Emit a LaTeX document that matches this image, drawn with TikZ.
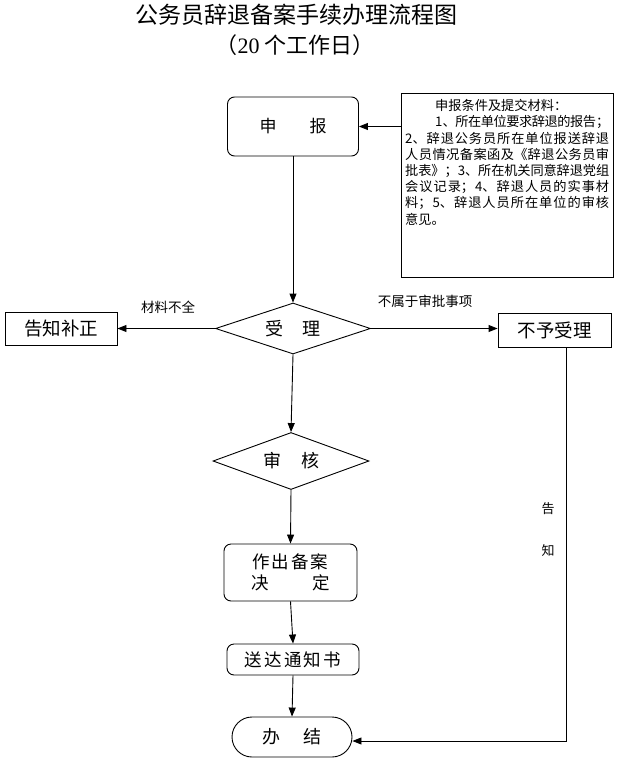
\documentclass[tikz,border=0pt]{standalone}
\usepackage{fontspec}
\setmainfont{Noto Sans CJK SC}
\newfontfamily\latinserif{Liberation Serif}
\XeTeXlinebreaklocale "zh"
\XeTeXlinebreakskip=0pt plus 3pt minus 0.8pt
\usetikzlibrary{shapes.geometric,arrows.meta,calc}
\newcommand{\fs}[1]{\fontsize{#1}{#1}\selectfont}
\begin{document}
\begin{tikzpicture}[x=1pt,y=-1pt,
  base/.style={draw,line width=0.9pt,inner sep=0pt,anchor=center},
  rbox/.style={base,rectangle,rounded corners=7pt},
  sbox/.style={base,rectangle},
  dia/.style={base,diamond,aspect=3},
  arr/.style={line width=0.9pt,-{Triangle[length=9pt,width=7pt]}},
  lbl/.style={inner sep=0pt,font=\fs{13.5}},
  info/.style={inner sep=0pt,anchor=west,font=\fs{13.2}},
  jinfo/.style={info,text width=#1,align=justify}]
\useasboundingbox (0,0) rectangle (618,768);
\fill[white] (0,0) rectangle (618,768);

% title
\node[inner sep=0pt,font=\fs{23}] (title) at (296,15) {公务员辞退备案手续办理流程图};
\node[inner sep=0pt,font=\fs{22}] (subtitle) at (295,45) {（{\latinserif 20} 个工作日）};

% nodes
\node[rbox,minimum width=131pt,minimum height=59pt,font=\fs{17}] (shenbao) at (293,126.5) {申\hspace{33pt}报};
\node[sbox,minimum width=212pt,minimum height=184pt] (info) at (507,185) {};
\node[info] (i1) at (435,105) {申报条件及提交材料：};
\node[jinfo=174pt] (i2) at (435,121.5) {\noindent\parfillskip=0pt 1、所在单位要求辞退的报告；\par};
\node[jinfo=204pt] (i3) at (405,138) {\noindent\parfillskip=0pt 2、辞退公务员所在单位报送辞退\par};
\node[jinfo=204pt] (i4) at (405,154.5) {\noindent\parfillskip=0pt 人员情况备案函及《辞退公务员审\par};
\node[jinfo=204pt] (i5) at (405,171) {\noindent\parfillskip=0pt 批表》；3、所在机关同意辞退党组\par};
\node[jinfo=204pt] (i6) at (405,187) {\noindent\parfillskip=0pt 会议记录；4、辞退人员的实事材\par};
\node[jinfo=204pt] (i7) at (405,203) {\noindent\parfillskip=0pt 料；5、辞退人员所在单位的审核\par};
\node[info] (i8) at (405,219) {意见。};

\node[dia,minimum width=155pt,minimum height=51pt,font=\fs{18}] (shouli) at (293,328.5) {受\hspace{19pt}理\hspace{12pt}};
\node[sbox,minimum width=112pt,minimum height=33pt,font=\fs{18.5}] (gaozhi) at (61,328.5) {告知补正};
\node[sbox,minimum width=113pt,minimum height=34pt,font=\fs{18.5}] (buyu) at (554.5,330) {不予受理};
\node[dia,minimum width=156pt,minimum height=57pt,font=\fs{18}] (shenhe) at (291,461) {审\hspace{20pt}核\hspace{12pt}};
\node[rbox,minimum width=133pt,minimum height=57pt,align=center,font=\fontsize{17.5}{20.5}\selectfont] (zuochu) at (290.5,572.5)
  {作\hspace{2pt}出\hspace{2pt}备\hspace{2pt}案\\决\hspace{43pt}定};
\node[rbox,minimum width=132pt,minimum height=31pt,font=\fs{17.5}] (songda) at (293,659.5)
  {送\hspace{2.2pt}达\hspace{2.2pt}通\hspace{2.2pt}知\hspace{2.2pt}书\hspace{4pt}};
\node[rbox,rounded corners=20pt,minimum width=120pt,minimum height=40pt,font=\fs{18}] (banjie) at (292,737) {办\hspace{23pt}结\hspace{3pt}};

% labels
\node[lbl] (l1) at (168,307) {材料不全};
\node[lbl] (l2) at (425,301) {不属于审批事项};
\node[lbl,font=\fs{13}] (l3) at (548,509) {告};
\node[lbl,font=\fs{13}] (l4) at (548,551) {知};

% connectors
\draw[arr] (info.west |- shenbao.east) -- (shenbao.east);
\draw[arr] (shenbao.south) -- (shouli.north);
\draw[arr] (shouli.west) -- (gaozhi.east);
\draw[arr] (shouli.east) -- (buyu.west |- shouli.east);
\draw[arr] (shouli.south) -- (shenhe.north);
\draw[arr] (shenhe.south) -- (zuochu.north);
\draw[arr] (zuochu.south) -- (songda.north);
\draw[arr] (songda.south) -- (banjie.north);
\coordinate (turn) at (566,741);
\draw[arr] (buyu.south -| turn) -- (turn) -- (banjie.east |- turn);
\end{tikzpicture}
\end{document}
